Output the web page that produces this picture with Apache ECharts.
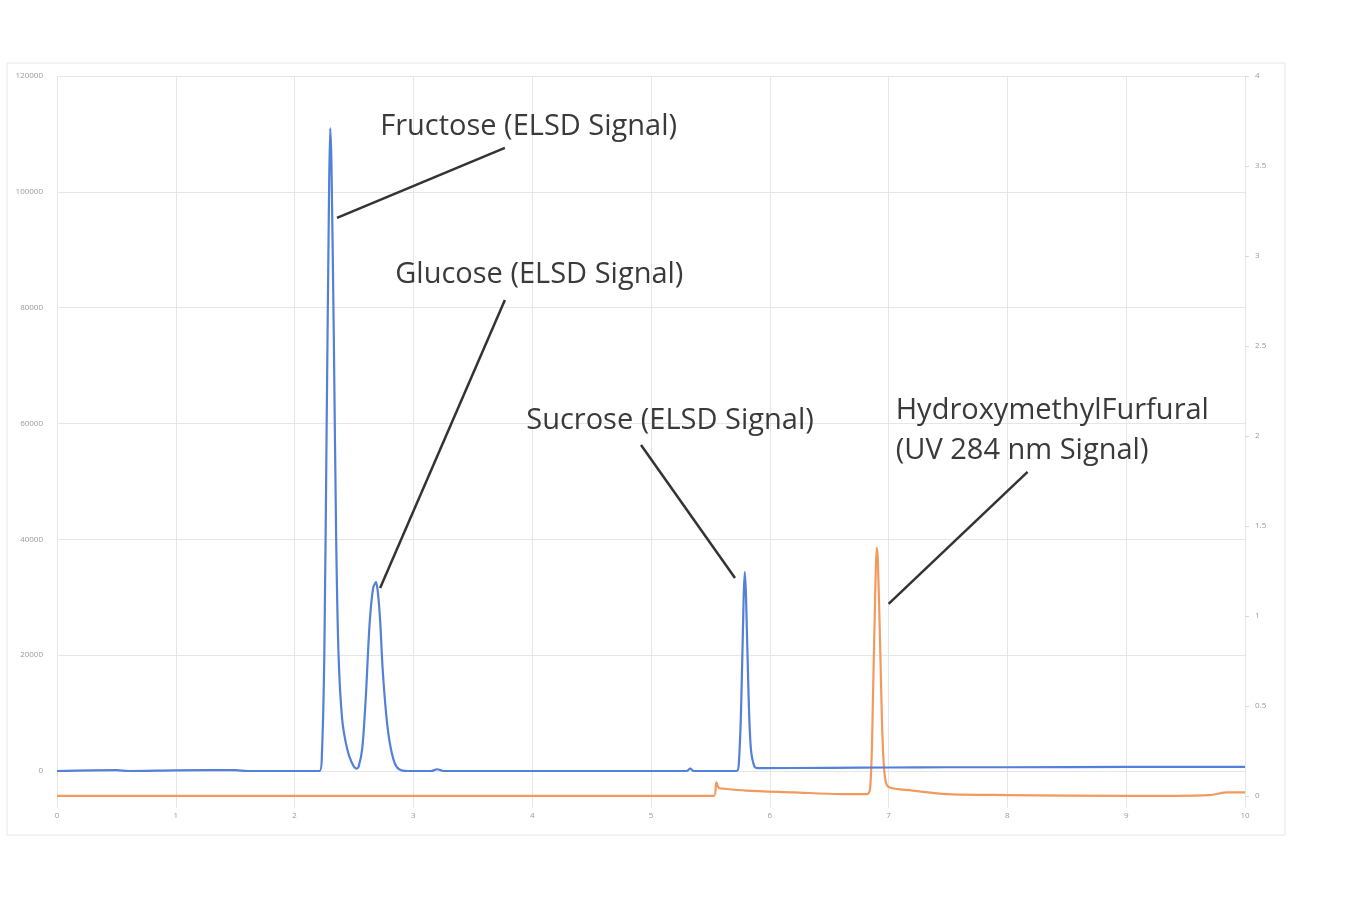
<!DOCTYPE html>
<html>
<head>
<meta charset="utf-8">
<script src="https://cdn.jsdelivr.net/npm/echarts@6/dist/echarts.min.js"></script>
<style>
  html, body { margin: 0; padding: 0; background: #fff; }
  #chart { width: 1350px; height: 907px; }
</style>
</head>
<body>
<div id="chart"></div>
<script>
// ELSD signal (left axis), retention time in minutes
const elsdTime = [0, 0.5, 0.6, 1.0, 1.5, 1.6, 2.0, 2.21, 2.23, 2.25, 2.27, 2.29, 2.30, 2.31, 2.33, 2.35, 2.37, 2.40,
  2.44, 2.48, 2.52, 2.54, 2.57, 2.60, 2.63, 2.66, 2.685, 2.70, 2.72, 2.74, 2.77, 2.80, 2.84, 2.88, 2.95,
  3.15, 3.2, 3.25, 4.0, 5.0, 5.3, 5.33, 5.36, 5.72, 5.74, 5.76, 5.78, 5.79, 5.80, 5.82, 5.84, 5.87, 5.90,
  6.5, 7.0, 7.5, 8.0, 9.0, 10.0]
const elsdSignal = [0, 150, 0, 100, 150, 0, 0, 0, 3000, 20000, 60000, 100000, 111000, 105000, 75000, 40000, 20000, 9000,
  4000, 1500, 400, 800, 4000, 13000, 25000, 31500, 32600, 31000, 26000, 18000, 10000, 5000, 1500, 300, 0,
  0, 300, 0, 0, 0, 0, 400, 0, 0, 1500, 12000, 30000, 34400, 30000, 14000, 4000, 800, 500,
  550, 600, 650, 650, 700, 700]

// UV 284 nm signal (right axis)
const uvTime = [0, 1, 2, 3, 4, 5, 5.53, 5.55, 5.57, 5.62, 5.8, 6.2, 6.6, 6.82, 6.85, 6.87, 6.89, 6.90, 6.91,
  6.93, 6.95, 6.97, 7.0, 7.2, 7.5, 8.0, 9.0, 9.7, 9.85, 10.0]
const uvSignal = [0, 0, 0, 0, 0, 0, 0, 0.075, 0.045, 0.04, 0.03, 0.02, 0.01, 0.01, 0.1, 0.6, 1.2, 1.38, 1.3,
  0.8, 0.3, 0.1, 0.05, 0.03, 0.01, 0.005, 0, 0.005, 0.02, 0.02]

const xTicks = [0, 1, 2, 3, 4, 5, 6, 7, 8, 9, 10]
const leftTicks = [0, 20000, 40000, 60000, 80000, 100000, 120000]
const rightTicks = [0, 0.5, 1, 1.5, 2, 2.5, 3, 3.5, 4]

// peak annotations: label text, label anchor, leader line start and end (time, ELSD units)
const peakNames = ['Fructose (ELSD Signal)', 'Glucose (ELSD Signal)', 'Sucrose (ELSD Signal)',
  'HydroxymethylFurfural\n(UV 284 nm Signal)']
const labelAt = [[3.97, 111200], [4.06, 85660], [5.16, 60450], [7.06, 58720]]
const leaderFrom = [[3.77, 107600], [3.77, 81340], [4.916, 56300], [8.17, 51640]]
const leaderTo = [[2.357, 95500], [2.72, 31600], [5.707, 33330], [7.0, 28840]]

const elsdData = elsdTime.map((t, i) => [t, elsdSignal[i]])
const uvData = uvTime.map((t, i) => [t, uvSignal[i]])

const chart = echarts.init(document.getElementById('chart'))

const option = {
  backgroundColor: '#fff',
  animation: false,
  graphic: [{
    type: 'rect',
    shape: { x: 7, y: 63, width: 1278, height: 772 },
    style: { fill: 'none', stroke: '#e6e6e6', lineWidth: 1 },
    silent: true
  }],
  grid: { left: 57, right: 105, top: 76, bottom: 99 },
  xAxis: {
    type: 'value',
    min: 0,
    max: 10,
    interval: 1,
    axisLine: { show: false },
    axisTick: { show: true, length: 27, lineStyle: { color: '#e6e6e6' } },
    axisLabel: { fontSize: 8, color: '#9a9a9a', margin: 4, fontFamily: 'Open Sans' },
    splitLine: { show: true, lineStyle: { color: '#e6e6e6' } }
  },
  yAxis: [{
    type: 'value',
    position: 'left',
    min: -6390,
    max: 120000,
    axisLine: { show: false },
    axisTick: { show: false, customValues: leftTicks },
    axisLabel: {
      customValues: leftTicks, fontSize: 8, color: '#9a9a9a', margin: 14, fontFamily: 'Open Sans',
      formatter: v => String(v)
    },
    splitLine: { show: true, lineStyle: { color: '#e6e6e6' } }
  }, {
    type: 'value',
    position: 'right',
    min: -0.067,
    max: 4,
    axisLine: { show: false },
    axisTick: { show: true, length: 4, customValues: rightTicks, lineStyle: { color: '#d8d8d8' } },
    axisLabel: { customValues: rightTicks, fontSize: 8, color: '#9a9a9a', margin: 10, fontFamily: 'Open Sans' },
    splitLine: { show: false }
  }],
  series: [{
    name: 'ELSD Signal',
    type: 'line',
    yAxisIndex: 0,
    data: elsdData,
    showSymbol: false,
    smooth: 0.3,
    lineStyle: { color: '#5380d8', width: 2.2 },
    z: 3,
    markPoint: {
      symbol: 'circle',
      symbolSize: 0,
      silent: true,
      data: peakNames.map((name, i) => ({
        coord: labelAt[i],
        label: {
          show: true,
          formatter: name,
          position: i === 3 ? 'right' : 'inside',
          distance: 0,
          align: i === 3 ? 'left' : 'center',
          fontSize: 29,
          lineHeight: 40,
          color: '#3a3a3a',
          fontFamily: 'Open Sans'
        }
      }))
    },
    markLine: {
      symbol: 'none',
      silent: true,
      label: { show: false },
      lineStyle: { color: '#333', width: 2.5, type: 'solid' },
      data: leaderFrom.map((p, i) => [{ coord: p }, { coord: leaderTo[i] }])
    }
  }, {
    name: 'UV 284 nm Signal',
    type: 'line',
    yAxisIndex: 1,
    data: uvData,
    showSymbol: false,
    smooth: 0.3,
    lineStyle: { color: '#f29a5e', width: 2.2 },
    z: 2
  }]
}

chart.setOption(option)
</script>
</body>
</html>
